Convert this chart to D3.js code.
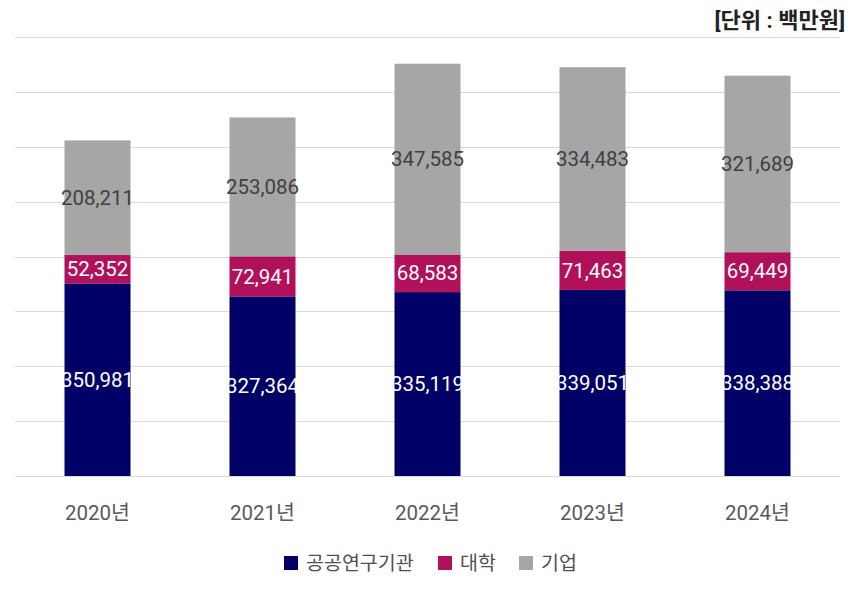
<!DOCTYPE html>
<html>
<head>
<meta charset="utf-8">
<script src="https://cdn.jsdelivr.net/npm/d3@7"></script>
<style>
  body { margin: 0; background: #fff; }
  svg text { font-family: Roboto, "Noto Sans CJK KR", sans-serif; }
</style>
</head>
<body>
<div id="chart"></div>
<script>
var years = ["2020년", "2021년", "2022년", "2023년", "2024년"];
var seriesNames = ["공공연구기관", "대학", "기업"];
var publicInst = [350981, 327364, 335119, 339051, 338388];
var university = [52352, 72941, 68583, 71463, 69449];
var company = [208211, 253086, 347585, 334483, 321689];
var colors = ["#000066", "#b0115a", "#a6a6a6"];
var labelColors = ["#ffffff", "#ffffff", "#404040"];

var width = 862, height = 591;
var margin = {top: 37, right: 22, bottom: 115, left: 15};

var svg = d3.select("#chart").append("svg")
    .attr("width", width)
    .attr("height", height);

var rows = years.map(function (y, i) {
    return {year: y, s0: publicInst[i], s1: university[i], s2: company[i]};
});
var stack = d3.stack().keys(["s0", "s1", "s2"]);
var layers = stack(rows);

var x = d3.scaleBand()
    .domain(years)
    .range([margin.left, width - margin.right])
    .paddingInner(0.6)
    .paddingOuter(0.3);

var y = d3.scaleLinear()
    .domain([0, 800000])
    .range([height - margin.bottom, margin.top]);

// grid
svg.append("g").selectAll("line")
    .data(y.ticks(8))
    .enter().append("line")
    .attr("x1", margin.left)
    .attr("x2", width - margin.right)
    .attr("y1", function (d) { return Math.round(y(d)) + 0.5; })
    .attr("y2", function (d) { return Math.round(y(d)) + 0.5; })
    .attr("stroke", "#d9d9d9")
    .attr("stroke-width", 1);

var groups = svg.append("g").selectAll("g")
    .data(layers)
    .enter().append("g")
    .attr("fill", function (d, i) { return colors[i]; });

groups.selectAll("rect")
    .data(function (d) { return d; })
    .enter().append("rect")
    .attr("x", function (d) { return x(d.data.year); })
    .attr("width", x.bandwidth())
    .attr("y", function (d) { return y(d[1]); })
    .attr("height", function (d) { return y(d[0]) - y(d[1]); });

var fmt = d3.format(",");
layers.forEach(function (layer, i) {
    svg.append("g").selectAll("text")
        .data(layer)
        .enter().append("text")
        .attr("x", function (d) { return x(d.data.year) + x.bandwidth() / 2; })
        .attr("y", function (d) { return (y(d[0]) + y(d[1])) / 2; })
        .attr("dy", "0.35em")
        .attr("text-anchor", "middle")
        .attr("fill", labelColors[i])
        .style("font-size", "20.5px")
        .text(function (d) { return fmt(d[1] - d[0]); });
});

// x axis labels
svg.append("g").selectAll("text")
    .data(years)
    .enter().append("text")
    .attr("x", function (d) { return x(d) + x.bandwidth() / 2; })
    .attr("y", 513)
    .attr("dy", "0.35em")
    .attr("text-anchor", "middle")
    .attr("fill", "#595959")
    .style("font-size", "20.5px")
    .text(function (d) { return d; });

// unit
svg.append("text")
    .attr("x", 845)
    .attr("y", 20)
    .attr("dy", "0.35em")
    .attr("text-anchor", "end")
    .attr("fill", "#222")
    .style("font-size", "22px")
    .style("font-weight", "bold")
    .text("[단위 : 백만원]");

// legend
var legendX = [284, 438, 519];
var legend = svg.append("g").selectAll("g")
    .data(seriesNames)
    .enter().append("g")
    .attr("transform", function (d, i) { return "translate(" + legendX[i] + ",556)"; });
legend.append("rect")
    .attr("width", 14)
    .attr("height", 14)
    .attr("fill", function (d, i) { return colors[i]; });
legend.append("text")
    .attr("x", 22)
    .attr("y", 7)
    .attr("dy", "0.35em")
    .attr("fill", "#505050")
    .style("font-size", "19.5px")
    .text(function (d) { return d; });
</script>
</body>
</html>
